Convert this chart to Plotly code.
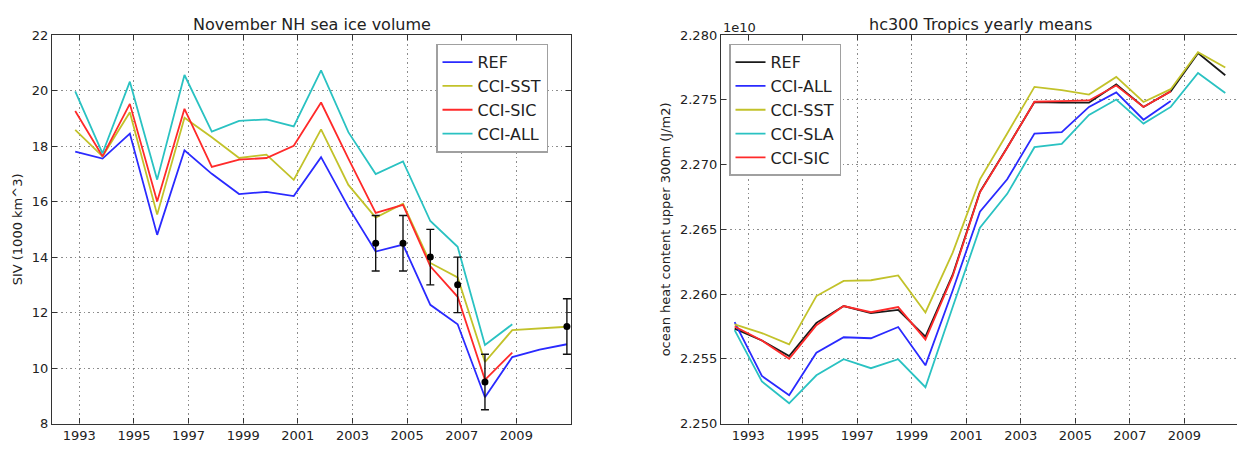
import plotly.graph_objects as go

# ---------------- November NH sea ice volume (1000 km^3) ----------------
nov_years = [1992, 1993, 1994, 1995, 1996, 1997, 1998, 1999, 2000, 2001,
             2002, 2003, 2004, 2005, 2006, 2007, 2008, 2009, 2010]
siv_ref = [17.80, 17.55, 18.45, 14.80, 17.85, 17.00, 16.27, 16.35, 16.20, 17.60,
           15.80, 14.20, 14.45, 12.28, 11.58, 8.95, 10.40, 10.67, 10.86]
siv_sst = [18.58, 17.63, 19.22, 15.53, 19.02, 18.32, 17.57, 17.69, 16.78, 18.60,
           16.60, 15.42, 15.92, 13.79, 13.27, 10.22, 11.37, 11.43, 11.49]
siv_sic = [19.26, 17.63, 19.52, 16.00, 19.34, 17.25, 17.51, 17.57, 18.01, 19.57,
           17.55, 15.59, 15.88, 13.67, 12.57, 9.58, 10.56]
siv_all = [19.97, 17.74, 20.32, 16.79, 20.56, 18.52, 18.91, 18.96, 18.71, 20.73,
           18.50, 16.99, 17.45, 15.30, 14.37, 10.83, 11.58]
obs_years = [2003, 2004, 2005, 2006, 2007, 2010]
obs_siv = [14.5, 14.5, 14.0, 13.0, 9.5, 11.5]
obs_err = [1.0, 1.0, 1.0, 1.0, 1.0, 1.0]

# ---------------- hc300 Tropics yearly means (x 1e10 J/m2) ----------------
hc_years = [1992, 1993, 1994, 1995, 1996, 1997, 1998, 1999, 2000, 2001,
            2002, 2003, 2004, 2005, 2006, 2007, 2008, 2009, 2010]
hc_ref = [2.25734, 2.25642, 2.25522, 2.25778, 2.25908, 2.25853, 2.25878, 2.25672, 2.26150, 2.26790,
          2.27132, 2.27483, 2.27478, 2.27478, 2.27619, 2.27445, 2.27565, 2.27860, 2.27689]
hc_all = [2.25784, 2.25368, 2.25219, 2.25547, 2.25667, 2.25659, 2.25746, 2.25450, 2.26028, 2.26637,
          2.26886, 2.27239, 2.27251, 2.27445, 2.27557, 2.27346, 2.27490]
hc_sst = [2.25766, 2.25699, 2.25612, 2.25985, 2.26102, 2.26107, 2.26144, 2.25858, 2.26320, 2.26886,
          2.27240, 2.27600, 2.27575, 2.27540, 2.27677, 2.27483, 2.27582, 2.27868, 2.27749]
hc_sla = [2.25722, 2.25326, 2.25157, 2.25373, 2.25497, 2.25428, 2.25497, 2.25281, 2.25900, 2.26513,
          2.26774, 2.27134, 2.27159, 2.27383, 2.27502, 2.27316, 2.27445, 2.27707, 2.27552]
hc_sic = [2.25750, 2.25642, 2.25500, 2.25760, 2.25908, 2.25860, 2.25900, 2.25650, 2.26140, 2.26786,
          2.27130, 2.27485, 2.27490, 2.27495, 2.27610, 2.27445, 2.27565]

xticks = [1993, 1995, 1997, 1999, 2001, 2003, 2005, 2007, 2009]
siv_ticks = [8, 10, 12, 14, 16, 18, 20, 22]
hc_ticks = [2.250, 2.255, 2.260, 2.265, 2.270, 2.275, 2.280]

# November values sit late in the year, annual means at mid-year
NOV = 0.85
MID = 0.5

BLUE = "#2a2aff"
YELLOW = "#c2c22a"
RED = "#ff2a2a"
CYAN = "#2ac2c2"
BLACK = "#1a1a1a"
FONT = "DejaVu Sans"
TXT = "#222222"
LW = 1.8

W, H = 1237, 450


def px(x):
    return x / W


def py(y):
    return 1 - y / H


fig = go.Figure()


def line(xs, ys, name, color, xa, ya, legend, offset):
    fig.add_trace(go.Scatter(
        x=[v + offset for v in xs[:len(ys)]], y=ys, name=name, mode="lines",
        line=dict(color=color, width=LW), xaxis=xa, yaxis=ya, legend=legend,
    ))


line(nov_years, siv_ref, "REF", BLUE, "x", "y", "legend", NOV)
line(nov_years, siv_sst, "CCI-SST", YELLOW, "x", "y", "legend", NOV)
line(nov_years, siv_sic, "CCI-SIC", RED, "x", "y", "legend", NOV)
line(nov_years, siv_all, "CCI-ALL", CYAN, "x", "y", "legend", NOV)
fig.add_trace(go.Scatter(
    x=[v + NOV for v in obs_years], y=obs_siv, mode="markers", showlegend=False,
    marker=dict(color="black", size=7),
    error_y=dict(type="data", array=obs_err, visible=True, color="#111111",
                 thickness=1.4, width=4),
    xaxis="x", yaxis="y",
))

line(hc_years, hc_ref, "REF", BLACK, "x2", "y2", "legend2", MID)
line(hc_years, hc_all, "CCI-ALL", BLUE, "x2", "y2", "legend2", MID)
line(hc_years, hc_sst, "CCI-SST", YELLOW, "x2", "y2", "legend2", MID)
line(hc_years, hc_sla, "CCI-SLA", CYAN, "x2", "y2", "legend2", MID)
line(hc_years, hc_sic, "CCI-SIC", RED, "x2", "y2", "legend2", MID)

axis_common = dict(
    showline=True, linecolor="#333333", linewidth=1.4,
    ticks="inside", ticklen=5, tickcolor="#333333",
    showgrid=True, gridcolor="#8c8c8c", griddash="1.5px,3px", gridwidth=1,
    zeroline=False, tickfont=dict(family=FONT, size=13, color=TXT),
)

ydom = [py(431), py(29)]

legend_common = dict(
    xanchor="left", yanchor="top", bgcolor="white",
    bordercolor="#a0a0a0", borderwidth=1.5,
    font=dict(family=FONT, size=16, color=TXT),
    tracegroupgap=0, itemwidth=30,
)

fig.update_layout(
    width=W, height=H,
    margin=dict(l=0, r=0, t=0, b=0),
    paper_bgcolor="white", plot_bgcolor="white",
    font=dict(family=FONT, color=TXT),
    xaxis=dict(domain=[px(52), px(571)], range=[1992, 2011], tickvals=xticks,
               mirror="allticks", anchor="y", **axis_common),
    yaxis=dict(domain=ydom, range=[8, 22], tickvals=siv_ticks,
               mirror="allticks", anchor="x", **axis_common),
    xaxis2=dict(domain=[px(721), 1.0], range=[1992, 2010.93], tickvals=xticks,
                mirror="allticks", anchor="y2", **axis_common),
    yaxis2=dict(domain=ydom, range=[2.25, 2.28], tickvals=hc_ticks,
                tickformat=".3f", mirror=False, anchor="x2", **axis_common),
    legend=dict(x=px(436), y=py(38), **legend_common),
    legend2=dict(x=px(729), y=py(38), **legend_common),
    showlegend=True,
)

annotations = [
    dict(text="November NH sea ice volume", x=px(311.5), y=py(18), size=16),
    dict(text="hc300 Tropics yearly means", x=px(980), y=py(18), size=16),
    dict(text="SIV (1000 km^3)", x=px(17), y=py(230), size=13, textangle=-90),
    dict(text="ocean heat content upper 300m (J/m2)", x=px(665), y=py(230),
         size=13, textangle=-90),
]
for a in annotations:
    fig.add_annotation(text=a["text"], x=a["x"], y=a["y"],
                       xref="paper", yref="paper", showarrow=False,
                       xanchor="center", yanchor="middle",
                       textangle=a.get("textangle", 0),
                       font=dict(family=FONT, color=TXT, size=a["size"]))
fig.add_annotation(text="1e10", xref="paper", yref="paper", x=px(721), y=py(21),
                   xanchor="left", yanchor="middle", showarrow=False,
                   font=dict(family=FONT, size=13, color=TXT))

fig.write_html("out.html")
